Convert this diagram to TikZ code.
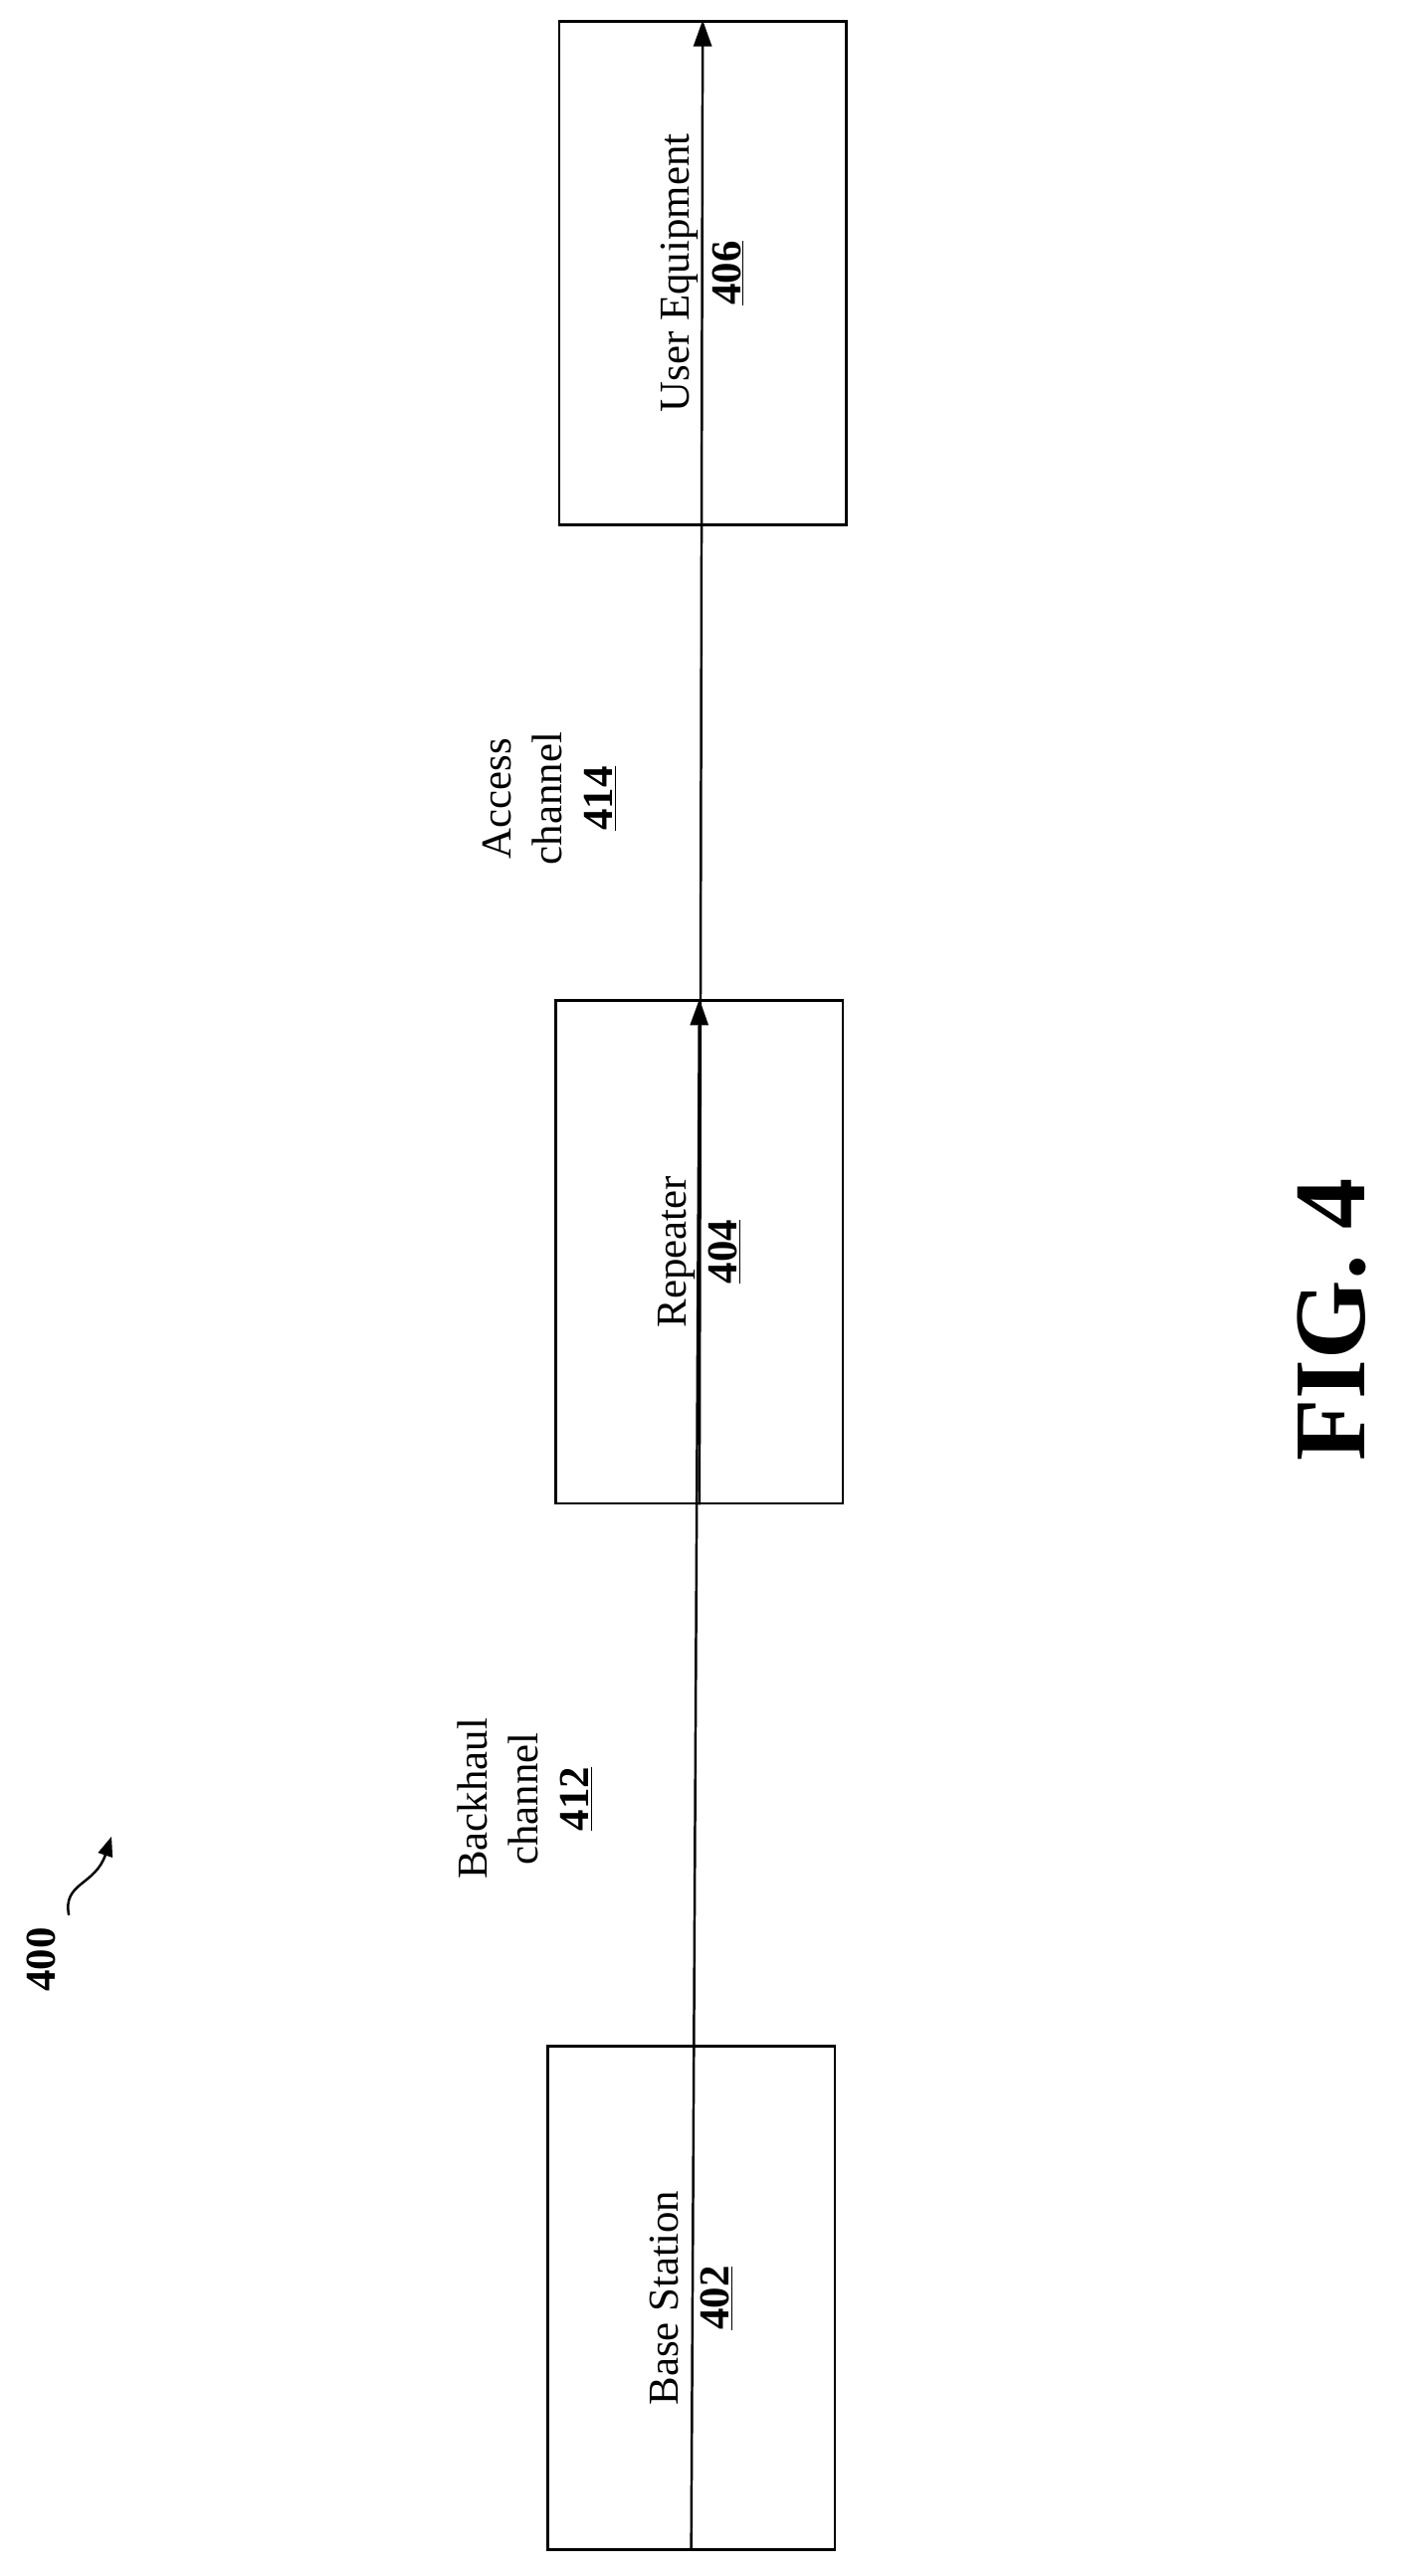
\documentclass[tikz,border=0pt]{standalone}
\usepackage{fontspec}
\setmainfont{Liberation Serif}
\usetikzlibrary{arrows.meta}
\begin{document}
\begin{tikzpicture}[x=1pt,y=-1pt,
  box/.style={draw,line width=1.5pt,minimum width=307pt,minimum height=175pt,rotate=90,align=center,font=\fontsize{26}{31}\selectfont},
  lbl/.style={rotate=90,align=center,font=\fontsize{26}{31}\selectfont},
  conn/.style={line width=1.5pt,-{Triangle[length=16pt,width=11pt]}}]
\useasboundingbox (0,0) rectangle (860,1571);
\node[box] (ue) at (428.5,166.5) {User Equipment\\\textbf{\underline{406}}};
\node[box] (rep) at (426.5,763.5) {Repeater\\\textbf{\underline{404}}};
\node[box] (bs) at (421.5,1401.5) {Base Station\\\textbf{\underline{402}}};
\draw[conn] (rep.west) -- (ue.east);
\draw[conn] (bs.west) -- (rep.east);
\node[lbl] (acc) at (335,487) {Access\\channel\\\textbf{\underline{414}}};
\node[lbl] (bh) at (320,1097) {Backhaul\\channel\\\textbf{\underline{412}}};
\node[lbl,font=\fontsize{26}{31}\selectfont\bfseries] (n400) at (25,1195) {400};
\coordinate (a1) at (42,1168);
\coordinate (a2) at (68,1120);
\draw[line width=1.5pt,-{Triangle[length=12pt,width=9pt]}] (a1) .. controls (38,1148) and (58,1150) .. (a2);
\node[rotate=90,font=\fontsize{62}{70}\selectfont\bfseries] (fig) at (812,805) {FIG. 4};
\end{tikzpicture}
\end{document}
